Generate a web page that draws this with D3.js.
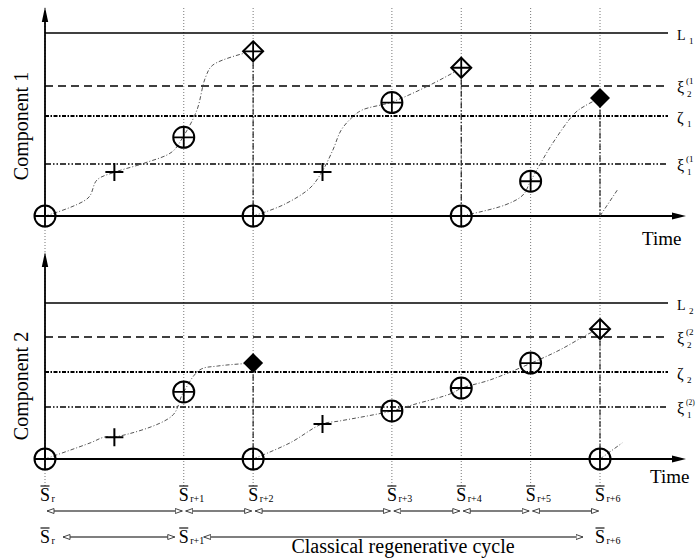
<!DOCTYPE html>
<html><head><meta charset="utf-8">
<script src="https://cdn.jsdelivr.net/npm/d3@7"></script>
<style>body{margin:0;background:#fff} svg{display:block}</style>
</head><body>
<script>
// ---- data ----
const eventTimes = [0, 2, 3, 5, 6, 7, 8];
const eventSubs = ["r", "r+1", "r+2", "r+3", "r+4", "r+5", "r+6"];
const levelStyles = ["solid", "dash", "zeta", "dashdotdot"];
const levels1 = [100, 71, 54.6, 28.4];
const levels2 = [100, 78.2, 55.8, 33.3];
const rightLabels1 = [["L", "1", ""], ["ξ", "2", "(1"], ["ζ", "1", ""], ["ξ", "1", "(1"]];
const rightLabels2 = [["L", "2", ""], ["ξ", "2", "(2"], ["ζ", "2", ""], ["ξ", "1", "(2)"]];
const markers1 = [[0,0,"circle"],[1,24,"plus"],[2,43,"circle"],[3,90,"diamond"],[3,0,"circle"],
  [4,24,"plus"],[5,62,"circle"],[6,81,"diamond"],[6,0,"circle"],[7,19,"circle"],[8,64.5,"filled"]];
const markers2 = [[0,0,"circle"],[1,14,"plus"],[2,43,"circle"],[3,61.5,"filled"],[3,0,"circle"],
  [4,22.4,"plus"],[5,30.8,"circle"],[6,45.5,"circle"],[7,61.5,"circle"],[8,83.3,"diamond"],[8,0,"circle"]];
const drops1 = [[3,90],[6,81],[8,64.5]];
const drops2 = [[3,61.5],[8,83.3]];
const paths1 = [
  [[0,0],[0.62,9.8],[0.75,19.7],[1.01,24],[1.44,29],[1.83,35],[1.99,43.2],[2.19,57.9],[2.31,75.4],[2.42,82.5],[3,90.2]],
  [[3,0],[3.43,6],[3.82,15.3],[3.99,24],[4.15,36.1],[4.27,47],[4.43,54],[4.57,57.9],[5,62.3],[5.55,71.6],[6.01,80.9]],
  [[6,0],[6.63,6],[6.89,11.5],[7,19.1],[7.32,39.9],[7.64,56.3],[7.78,60.1],[8,64.5]],
  [[8,0],[8.25,14.2]]
];
const paths2 = [
  [[0,0],[0.65,10.3],[0.86,14.1],[1.01,14.1],[1.83,27.6],[1.99,42.3],[2.23,57.1],[2.49,59.6],[3,61.5]],
  [[3,0],[3.53,10.3],[3.99,22.4],[4.25,24.4],[5,30.8],[5.29,34.6],[5.84,41.7],[6.01,45.5],[6.41,50.6],[7.01,61.5],[7.42,69.9],[7.86,80.8],[8,83.3]],
  [[8,0],[8.32,10.3]]
];
const cycleRow1 = [[0,2],[2,3],[3,5],[5,6],[6,7],[7,8]];
const cycleRow2 = [[0,2],[2,8]];
const row2Labels = [[0,"r"],[2,"r+1"],[8,"r+6"]];
const panelTitles = ["Component 1", "Component 2"];

// ---- drawing ----
const W = 696, H = 559;
const FONT = "'Liberation Serif','Times New Roman',serif";
const svg = d3.select("body").append("svg").attr("width", W).attr("height", H);
const x = d3.scaleLinear().domain([0, 8]).range([45, 600]);
const y1 = d3.scaleLinear().domain([0, 100]).range([216, 33]);
const y2 = d3.scaleLinear().domain([0, 100]).range([459, 303]);
const dashes = {solid: null, dash: "8,5", zeta: "4,1.5,1.5,1.5", dashdotdot: "6,2,1.5,2,1.5,2"};
const widths = {solid: 1.6, dash: 1.6, zeta: 2, dashdotdot: 1.6};

const defs = svg.append("defs");
defs.append("marker").attr("id", "open").attr("viewBox", "0 0 8 6")
  .attr("refX", 7.5).attr("refY", 3).attr("markerWidth", 8).attr("markerHeight", 6)
  .attr("markerUnits", "userSpaceOnUse").attr("orient", "auto-start-reverse")
  .append("path").attr("d", "M0.5,0.5 L7.5,3 L0.5,5.5 Z").attr("fill", "#fff")
  .attr("stroke", "#444").attr("stroke-width", 1);

// vertical dotted guides
svg.append("g").selectAll("line").data(eventTimes).join("line")
  .attr("x1", d => x(d)).attr("x2", d => x(d)).attr("y1", 8).attr("y2", 486)
  .attr("stroke", "#777").attr("stroke-width", 1).attr("stroke-dasharray", "1,2");

function panel(y, levels, labels, markers, drops, paths, axisTop, title, titleY, timeX, timeY) {
  const g = svg.append("g");
  levels.forEach((lv, i) => {
    g.append("line").attr("x1", 45).attr("x2", 668).attr("y1", y(lv)).attr("y2", y(lv))
      .attr("stroke", "#000").attr("stroke-width", widths[levelStyles[i]])
      .attr("stroke-dasharray", dashes[levelStyles[i]]);
    const [m, sub, sup] = labels[i];
    const by = y(lv) + 7;
    g.append("text").attr("x", 677).attr("y", by).attr("font-family", FONT)
      .attr("font-size", m === "L" ? 14 : 16).text(m);
    g.append("text").attr("x", m === "L" ? 689 : 687).attr("y", by + 4).attr("font-family", FONT)
      .attr("font-size", 9).text(sub);
    if (sup) g.append("text").attr("x", 686).attr("y", by - 9).attr("font-family", FONT)
      .attr("font-size", sup.length > 2 ? 7.5 : 9).text(sup);
  });
  const base = y(0);
  g.append("line").attr("x1", 45).attr("x2", 676).attr("y1", base).attr("y2", base)
    .attr("stroke", "#000").attr("stroke-width", 1.8);
  g.append("path").attr("d", `M686,${base} L672,${base-3.5} L672,${base+3.5} Z`).attr("fill", "#000");
  g.append("line").attr("x1", 45).attr("x2", 45).attr("y1", base).attr("y2", axisTop + 10)
    .attr("stroke", "#000").attr("stroke-width", 1.8);
  g.append("path").attr("d", `M45,${axisTop} L41.8,${axisTop+15} L48.2,${axisTop+15} Z`).attr("fill", "#000");
  drops.forEach(([t, lv]) => {
    g.append("line").attr("x1", x(t)).attr("x2", x(t)).attr("y1", y(lv)).attr("y2", base)
      .attr("stroke", "#222").attr("stroke-width", 1.2).attr("stroke-dasharray", "6,2,1.5,2");
  });
  const line = d3.line().x(d => x(d[0])).y(d => y(d[1])).curve(d3.curveCatmullRom.alpha(0.5));
  paths.forEach(p => {
    g.append("path").attr("d", line(p)).attr("fill", "none").attr("stroke", "#555")
      .attr("stroke-width", 1).attr("stroke-dasharray", "4,2,1,2");
  });
  markers.forEach(([t, lv, type]) => {
    const cx = x(t), cy = y(lv);
    const m = g.append("g").attr("transform", `translate(${cx},${cy})`);
    if (type === "circle") {
      m.append("circle").attr("r", 10.5).attr("fill", "none").attr("stroke", "#000").attr("stroke-width", 2);
      m.append("path").attr("d", "M-10.5,0 H10.5 M0,-10.5 V10.5").attr("stroke", "#000").attr("stroke-width", 1.8);
    } else if (type === "plus") {
      m.append("path").attr("d", "M-9,0 H9 M0,-9 V9").attr("stroke", "#000").attr("stroke-width", 2);
    } else if (type === "diamond") {
      m.append("path").attr("d", "M0,-10 L10,0 L0,10 L-10,0 Z").attr("fill", "#fff").attr("stroke", "#000").attr("stroke-width", 2);
      m.append("path").attr("d", "M-10,0 H10 M0,-10 V10").attr("stroke", "#000").attr("stroke-width", 1.8);
    } else {
      m.append("path").attr("d", "M0,-10 L10,0 L0,10 L-10,0 Z").attr("fill", "#000");
    }
  });
  g.append("text").attr("transform", `translate(21,${titleY}) rotate(-90)`)
    .attr("text-anchor", "middle").attr("dominant-baseline", "central")
    .attr("font-family", FONT).attr("font-size", 20).text(title);
  g.append("text").attr("x", timeX).attr("y", timeY).attr("font-family", FONT)
    .attr("font-size", 19).text("Time");
}

panel(y1, levels1, rightLabels1, markers1, drops1, paths1, 7, panelTitles[0], 126, 642, 245);
panel(y2, levels2, rightLabels2, markers2, drops2, paths2, 252, panelTitles[1], 386, 650, 483);

function sbar(px, baseline, sub) {
  const g = svg.append("g");
  g.append("text").attr("x", px).attr("y", baseline).attr("font-family", FONT)
    .attr("font-size", 18).text("S");
  g.append("line").attr("x1", px + 0.5).attr("x2", px + 9.5).attr("y1", baseline - 15).attr("y2", baseline - 15)
    .attr("stroke", "#000").attr("stroke-width", 1.1);
  g.append("text").attr("x", px + 11.5).attr("y", baseline + 1).attr("font-family", FONT)
    .attr("font-size", 10).text(sub);
}
eventTimes.forEach((t, i) => sbar(x(t) - 5, 501, eventSubs[i]));
row2Labels.forEach(([t, s]) => sbar(x(t) - 5, 543, s));

svg.append("g").selectAll("line").data(cycleRow1).join("line")
  .attr("x1", d => x(d[0]) + 2).attr("x2", d => x(d[1]) - 1.5)
  .attr("y1", 511).attr("y2", 511).attr("stroke", "#555").attr("stroke-width", 1.6)
  .attr("marker-start", "url(#open)").attr("marker-end", "url(#open)");
const r2 = [[x(cycleRow2[0][0]) + 18, x(cycleRow2[0][1]) - 9], [x(cycleRow2[1][0]) + 20, x(cycleRow2[1][1]) - 17]];
svg.append("g").selectAll("line").data(r2).join("line")
  .attr("x1", d => d[0]).attr("x2", d => d[1])
  .attr("y1", 537).attr("y2", 537).attr("stroke", "#555").attr("stroke-width", 1.6)
  .attr("marker-start", "url(#open)").attr("marker-end", "url(#open)");
svg.append("text").attr("x", 403).attr("y", 553).attr("text-anchor", "middle")
  .attr("font-family", FONT).attr("font-size", 20).text("Classical regenerative cycle");
</script>
</body></html>
